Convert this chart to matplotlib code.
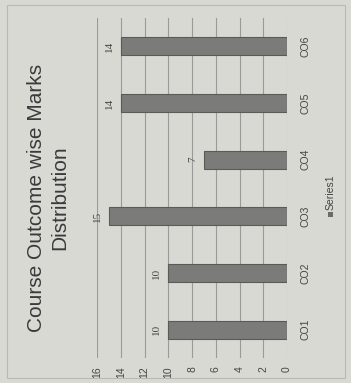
import matplotlib
matplotlib.use("Agg")
import matplotlib.pyplot as plt
from matplotlib.patches import Rectangle

categories = ["CO1", "CO2", "CO3", "CO4", "CO5", "CO6"]
values = [10, 10, 15, 7, 14, 14]
value_ticks = [0, 2, 4, 6, 8, 10, 12, 14, 16]
series_name = "Series1"
title = "Course Outcome wise Marks\nDistribution"

bg = "#d9d9d4"
W, H = 351, 383
fig = plt.figure(figsize=(W / 100, H / 100), dpi=100, facecolor=bg)

# chart border
fig.patches.append(Rectangle((7 / W, 1 - 378 / H), (345 - 7) / W, (378 - 5) / H,
                             transform=fig.transFigure, fill=False,
                             edgecolor="#b8b8b4", linewidth=0.8))

ax = fig.add_axes([97 / W, 1 - 358 / H, (287 - 97) / W, (358 - 18) / H])
ax.set_facecolor(bg)
ypos = list(range(len(categories)))
ax.barh(ypos, values, height=0.32, color="#7b7b79", edgecolor="#5a5a58", linewidth=0.8, zorder=3)
ax.set_xlim(16, 0)
ax.set_ylim(-0.5, len(categories) - 0.5)
ax.set_xticks(value_ticks)
ax.set_xticklabels([str(v) for v in value_ticks], rotation=90, fontsize=7.5, color="#444444",
                   family="Liberation Sans")
ax.xaxis.set_tick_params(length=0, pad=6)
ax.grid(axis="x", color="#9a9a98", linewidth=0.8, zorder=0)
ax.yaxis.tick_right()
ax.set_yticks(ypos)
ax.set_yticklabels(categories, rotation=90, fontsize=7.5, color="#444444", va="center",
                   family="Liberation Sans")
ax.yaxis.set_tick_params(length=0, pad=10)
for s in ax.spines.values():
    s.set_visible(False)

for y, v in zip(ypos, values):
    ax.text(v + 0.6, y, str(v), rotation=90, ha="right", va="center", fontsize=8,
            color="#444444", family="Liberation Serif")

fig.text(48 / W, 1 - 198 / H, title, rotation=90, ha="center", va="center", fontsize=15,
         color="#3a3a3a", family="Liberation Sans", multialignment="center", linespacing=1.25)

# legend
fig.patches.append(Rectangle((328 / W, 1 - 217 / H), 5 / W, 5 / H, transform=fig.transFigure,
                             facecolor="#6b6b69", edgecolor="none"))
fig.text(331 / W, 1 - 210 / H, series_name, rotation=90, ha="center", va="bottom", fontsize=7.5,
         color="#444444", family="Liberation Sans")

fig.savefig("out.png", dpi=100, facecolor=bg)
